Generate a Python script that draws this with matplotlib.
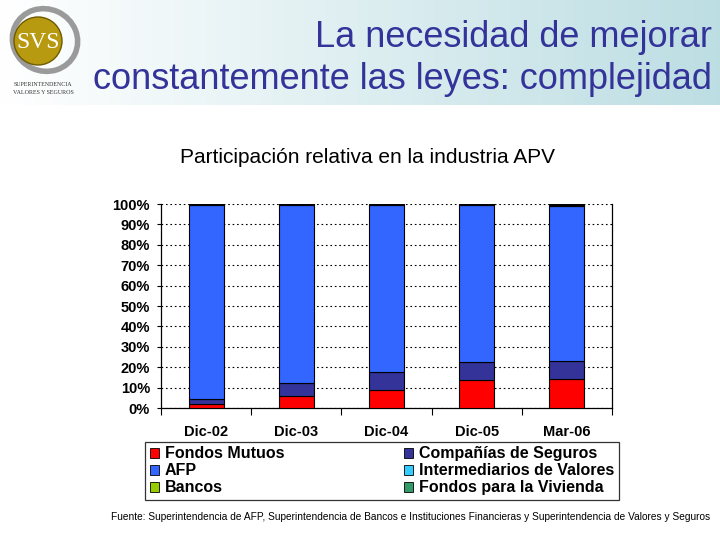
import numpy as np
import matplotlib
matplotlib.use("Agg")
import matplotlib.pyplot as plt
from matplotlib.patches import Circle, Ellipse, Patch
from matplotlib.ticker import FuncFormatter

plt.rcParams['font.family'] = ['Liberation Sans', 'DejaVu Sans']

# data (% share)
cats = ['Dic-02', 'Dic-03', 'Dic-04', 'Dic-05', 'Mar-06']
fondos_mutuos = [2.0, 5.8, 8.7, 13.8, 14.3]
companias = [2.4, 6.6, 9.1, 8.9, 8.9]
afp = [95.3, 86.9, 81.5, 76.6, 75.6]
intermediarios = [0.2, 0.5, 0.5, 0.5, 0.8]
bancos = [0.1, 0.2, 0.2, 0.2, 0.2]
vivienda = [0.0, 0.0, 0.0, 0.0, 0.2]

series = [
    ('Fondos Mutuos', fondos_mutuos, '#ff0000'),
    ('Compañías de Seguros', companias, '#333399'),
    ('AFP', afp, '#3366ff'),
    ('Intermediarios de Valores', intermediarios, '#33ccff'),
    ('Bancos', bancos, '#99cc00'),
    ('Fondos para la Vivienda', vivienda, '#339966'),
]

W, H = 720, 540
fig = plt.figure(figsize=(7.2, 5.4), dpi=100)
fig.patch.set_facecolor('white')

# header gradient
hdr = fig.add_axes([0, 1 - 105 / H, 1, 105 / H], zorder=0)
grad = np.linspace(0, 1, 256)
c0 = np.array([1.0, 1.0, 1.0])
c1 = np.array([0.74, 0.87, 0.89])
img = c0[None, None, :] * (1 - grad[None, :, None]) + c1[None, None, :] * grad[None, :, None]
hdr.imshow(img, aspect='auto', extent=[0, 1, 0, 1])
hdr.set_axis_off()

# logo
lg = fig.add_axes([0, 1 - 105 / H, 90 / W, 105 / H], zorder=1)
lg.set_xlim(0, 90)
lg.set_ylim(105, 0)
lg.set_axis_off()
lg.add_patch(Ellipse((45, 40), 66, 62, angle=25, fill=False, ec='#9a9a9a', lw=4))
lg.add_patch(Circle((38, 41), 24, fc='#b89a10', ec='#6e5a00', lw=1))
lg.text(38, 42, 'SVS', family='Liberation Serif', color='white', fontsize=17,
        ha='center', va='center')
lg.text(43, 84, 'SUPERINTENDENCIA', family='Liberation Serif', fontsize=4.3,
        ha='center', va='center', color='#333333')
lg.text(43, 92, 'VALORES Y SEGUROS', family='Liberation Serif', fontsize=4.3,
        ha='center', va='center', color='#333333')

# titles
fig.text(712 / W, 1 - 47 / H, 'La necesidad de mejorar', ha='right', va='baseline',
         fontsize=26, color='#333399')
fig.text(712 / W, 1 - 89 / H, 'constantemente las leyes: complejidad', ha='right',
         va='baseline', fontsize=26, color='#333399')
fig.text(367 / W, 1 - 158 / H, 'Participación relativa en la industria APV',
         ha='center', va='center', fontsize=15)

# chart
ax = fig.add_axes([161 / W, 1 - 408 / H, 451 / W, 204 / H])
x = np.arange(len(cats))
bottom = np.zeros(len(cats))
for name, vals, col in series:
    v = np.array(vals, dtype=float)
    ax.bar(x, v, 0.39, bottom=bottom, color=col, edgecolor='black', linewidth=0.8,
           zorder=3)
    bottom += v

ax.set_xlim(-0.5, len(cats) - 0.5)
ax.set_ylim(0, 100)
ax.set_yticks(np.arange(0, 101, 10))
ax.yaxis.set_major_formatter(FuncFormatter(lambda v, p: '%d%%' % v))
ax.set_xticks(x)
ax.set_xticklabels(cats, fontweight='bold', fontsize=10.5)
ax.set_xticks(np.arange(-0.5, len(cats), 1), minor=True)
ax.tick_params(axis='x', which='major', length=0, pad=12)
ax.tick_params(axis='x', which='minor', length=5, width=0.8, direction='out')
ax.tick_params(axis='y', length=3, width=0.8, pad=5, labelsize=10.5)
for lab in ax.get_yticklabels():
    lab.set_fontweight('bold')
ax.grid(axis='y', color='black', linestyle=(0, (1.5, 2.5)), linewidth=0.8, zorder=1)
ax.spines['top'].set_visible(False)
for s in ['left', 'right', 'bottom']:
    ax.spines[s].set_linewidth(0.9)

# legend (column-major order to get row layout of the original)
order = [0, 2, 4, 1, 3, 5]
handles = [Patch(facecolor=series[i][2], edgecolor='black', linewidth=0.6,
                 label=series[i][0]) for i in order]
leg = fig.legend(handles=handles, ncol=2, loc='lower left', mode='expand',
                 bbox_to_anchor=(145 / W, 1 - 500 / H, 474 / W, 59 / H),
                 prop={'weight': 'bold', 'size': 11.5}, frameon=True, fancybox=False,
                 edgecolor='black', handlelength=0.6, handleheight=0.6,
                 handletextpad=0.35, labelspacing=0.12, borderpad=0.3,
                 borderaxespad=0)
leg.get_frame().set_linewidth(0.9)

fig.text(411 / W, 1 - 517 / H,
         'Fuente: Superintendencia de AFP, Superintendencia de Bancos e Instituciones '
         'Financieras y Superintendencia de Valores y Seguros',
         ha='center', va='center', fontsize=7.3)

fig.savefig('out.png', dpi=100)
